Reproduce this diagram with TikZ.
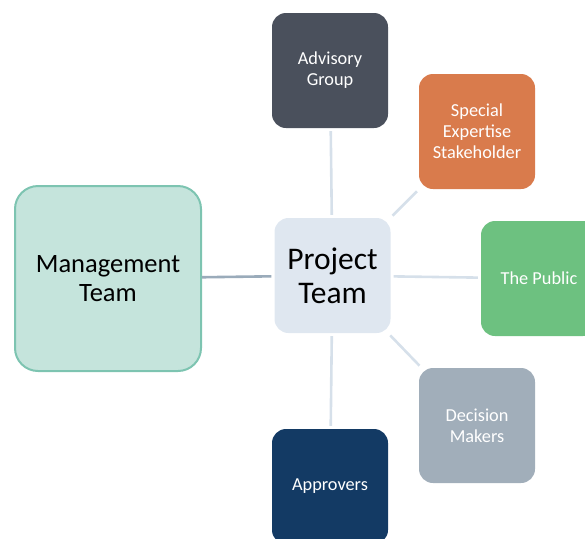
\documentclass[tikz,border=0pt]{standalone}
\usepackage{fontspec}
\setmainfont{Carlito}
\definecolor{advgray}{HTML}{4A505C}
\definecolor{specorange}{HTML}{D97B4C}
\definecolor{pubgreen}{HTML}{6DC180}
\definecolor{decgray}{HTML}{A1AEBA}
\definecolor{appnavy}{HTML}{133A64}
\definecolor{mgmtfill}{HTML}{C5E4DC}
\definecolor{mgmtedge}{HTML}{7DC4B1}
\definecolor{projfill}{HTML}{DFE7F0}
\definecolor{spokeblue}{HTML}{D6E0EA}
\definecolor{mgmtline}{HTML}{9AABBA}
\begin{document}
\begin{tikzpicture}[x=1pt,y=-1pt,
    team/.style={rectangle, rounded corners=14pt, inner sep=0pt,
      minimum width=116pt, minimum height=115pt, align=center,
      text=white, font=\fontsize{18.3}{21}\selectfont},
    spoke/.style={draw=spokeblue, line width=2.6pt,
      shorten <=3pt, shorten >=3pt}]
      \useasboundingbox (0,0) rectangle (585,538);
      \node[team, fill=projfill, text=black, minimum height=115pt,
        font=\fontsize{31.5}{34}\selectfont] (proj) at (332.5,275.5) {Project\\Team};
      \node[team, fill=mgmtfill, draw=mgmtedge, line width=2pt, text=black,
        rounded corners=23pt, minimum width=186pt, minimum height=185pt,
        font=\fontsize{26.5}{29}\selectfont] (mgmt) at (108,278.5) {Management\\Team};
      \node[team, fill=advgray] (adv) at (330,70.5) {Advisory\\Group};
      \node[team, fill=specorange] (spec) at (477,131.5) {Special\\Expertise\\Stakeholder};
      \node[team, fill=pubgreen] (pub) at (539,278.5) {The Public};
      \node[team, fill=decgray] (dec) at (477,425.5) {Decision\\Makers};
      \node[team, fill=appnavy] (app) at (330,486.5) {Approvers};
      \begin{scope}[spoke]
        \draw (proj) -- (adv);
        \draw (proj) -- (spec);
        \draw (proj) -- (pub);
        \draw (proj) -- (dec);
        \draw (proj) -- (app);
        \draw[draw=mgmtline, shorten >=0pt] (proj) -- (mgmt);
      \end{scope}
\end{tikzpicture}
\end{document}
